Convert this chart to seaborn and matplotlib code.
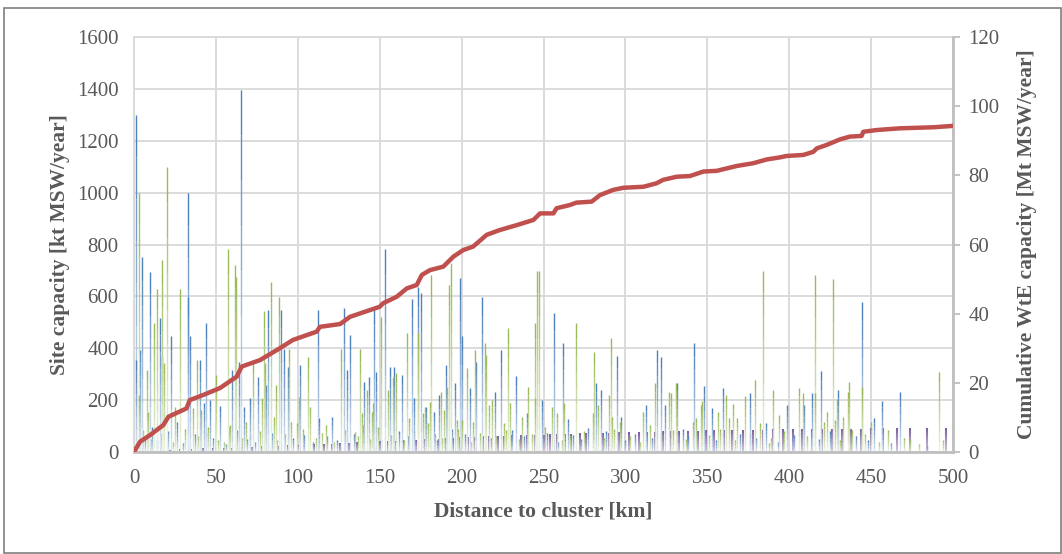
import numpy as np
import pandas as pd
import seaborn as sns
import matplotlib.pyplot as plt
from matplotlib.colors import to_rgb
from matplotlib.patches import Rectangle

# Site capacities [kt MSW/year] against distance to cluster [km]
blue_km = [1.0, 1.2, 3.6, 4.9, 9.9, 11.0, 15.9, 17.0, 22.8, 26.0,
           32.8, 33.2, 34.2, 40.0, 42.8, 43.8, 46.4, 52.5, 59.6, 64.3,
           65.5, 67.3, 70.9, 75.4, 80.6, 81.6, 89.7, 91.8, 93.8, 101.5,
           104.0, 112.5, 113.0, 120.7, 128.4, 130.0, 131.7, 140.6, 143.7, 146.8,
           147.8, 153.3, 156.5, 158.9, 163.6, 169.7, 171.0, 173.4, 175.2, 178.0,
           183.0, 186.0, 190.4, 196.0, 199.2, 200.2, 205.0, 208.9, 212.4, 220.2,
           224.2, 233.2, 240.0, 249.0, 256.2, 262.0, 265.0, 277.0, 282.0, 285.0,
           294.7, 297.0, 312.8, 319.5, 321.5, 324.0, 331.7, 341.9, 348.0, 352.7,
           359.8, 375.8, 386.0, 398.9, 409.0, 413.7, 419.6, 429.8, 444.6, 451.8,
           456.4, 467.6, 500.0]
blue_kt = [355, 1300, 393, 753, 695, 98, 515, 370, 447, 117,
           997, 599, 447, 355, 188, 496, 200, 177, 316, 348,
           1395, 175, 207, 290, 258, 547, 547, 396, 326, 335,
           65, 547, 130, 136, 556, 316, 451, 271, 290, 560,
           310, 781, 329, 329, 297, 589, 207, 637, 614, 175,
           155, 220, 335, 267, 669, 447, 245, 348, 599, 232,
           393, 293, 149, 200, 535, 419, 126, 91, 265, 239,
           370, 136, 181, 393, 365, 181, 267, 419, 254, 168,
           245, 226, 110, 181, 181, 226, 312, 239, 577, 130,
           198, 230, 91]
# small sites near the base
blue_small_km = [6.5, 14, 20.5, 30, 37, 48, 56, 63, 69, 74,
                 84, 97, 109, 118, 124, 134, 151, 162, 167, 185,
                 194, 202, 218, 231, 238, 252, 259, 268, 273, 288,
                 300, 306, 316, 335, 338, 355, 370, 380, 393, 403,
                 418, 425, 441, 448, 462, 484]
blue_small_kt = [60, 45, 80, 35, 70, 55, 30, 85, 50, 40,
                 75, 55, 40, 60, 45, 70, 50, 80, 60, 45,
                 90, 70, 55, 85, 60, 75, 40, 65, 50, 80,
                 45, 70, 55, 90, 60, 45, 70, 55, 40, 65,
                 50, 80, 60, 45, 35, 25]

green_km = [2.9, 3.0, 7.7, 8.5, 12.4, 13.8, 17.3, 18.5, 19.9, 25.0,
            28.1, 36.0, 38.3, 41.0, 45.0, 50.0, 55.0, 57.4, 58.5, 61.6,
            62.0, 68.5, 72.7, 78.0, 79.5, 79.8, 83.4, 85.5, 86.5, 88.7,
            94.8, 95.8, 99.2, 100.9, 106.4, 107.6, 117.0, 126.4, 135.0, 138.0,
            139.0, 139.8, 142.0, 145.2, 146.0, 150.7, 155.0, 158.0, 160.0, 166.5,
            168.0, 173.4, 176.5, 177.5, 179.5, 180.5, 181.3, 187.5, 189.0, 191.0,
            192.5, 193.5, 197.0, 200.5, 203.3, 207.0, 208.4, 214.0, 215.0, 216.5,
            218.5, 226.0, 228.1, 229.5, 237.0, 240.8, 244.8, 245.0, 246.0, 247.3,
            255.2, 258.2, 262.4, 270.0, 280.0, 280.9, 283.0, 290.2, 291.0, 291.8,
            296.5, 310.8, 314.8, 318.3, 326.6, 327.6, 330.8, 341.0, 343.0, 346.0,
            347.0, 356.8, 361.5, 363.0, 365.7, 368.0, 372.8, 378.9, 382.0, 383.8,
            387.5, 390.0, 394.0, 405.8, 408.5, 415.6, 416.0, 421.0, 423.0, 426.5,
            428.0, 429.0, 433.0, 435.7, 436.7, 438.5, 444.6, 450.0, 460.0, 474.0,
            491.4]
green_kt = [1000, 220, 316, 155, 496, 627, 740, 344, 1097, 175,
            627, 168, 355, 162, 98, 297, 40, 781, 104, 721,
            676, 117, 342, 207, 545, 342, 657, 136, 258, 599,
            396, 117, 110, 213, 367, 175, 104, 396, 78, 396,
            149, 104, 239, 155, 188, 519, 239, 290, 303, 457,
            130, 457, 149, 175, 110, 194, 682, 232, 162, 252,
            644, 727, 123, 123, 322, 117, 393, 421, 374, 181,
            200, 110, 477, 188, 136, 252, 207, 496, 699, 699,
            175, 149, 188, 496, 149, 387, 181, 220, 438, 136,
            117, 155, 104, 265, 232, 229, 265, 117, 130, 181,
            198, 155, 220, 130, 185, 130, 216, 278, 110, 699,
            33, 239, 143, 245, 226, 682, 226, 117, 155, 667,
            123, 203, 136, 232, 271, 85, 252, 117, 85, 49,
            310]
green_small_km = [5.5, 10.5, 16.5, 23.5, 31, 39, 44, 51, 58, 66,
                  71, 77, 87, 92, 103, 111, 115, 122, 129, 137,
                  144, 149, 157, 165, 171, 184, 188, 198, 206, 211,
                  221, 227, 235, 243, 251, 261, 266, 275, 287, 293,
                  303, 309, 322, 329, 337, 351, 358, 367, 376, 389,
                  397, 411, 431, 446, 455, 470, 479, 494]
green_small_kt = [85, 50, 70, 40, 90, 60, 75, 45, 95, 55,
                  65, 80, 45, 70, 90, 55, 75, 40, 85, 60,
                  50, 95, 65, 45, 80, 70, 55, 90, 40, 75,
                  60, 85, 50, 70, 95, 45, 65, 80, 55, 90,
                  60, 40, 75, 85, 50, 65, 90, 45, 70, 55,
                  80, 60, 45, 70, 40, 55, 30, 45]

purple_km = [22, 28, 35, 42, 48, 55, 60, 66, 72, 78,
             84, 88, 94, 100, 104, 110, 116, 121, 126, 131,
             136, 140, 146, 150, 155, 160, 164, 168, 172, 177,
             181, 186, 190, 195, 199, 204, 208, 213, 217, 222,
             226, 231, 236, 240, 245, 250, 254, 258, 263, 267,
             272, 276, 281, 286, 290, 296, 302, 308, 313, 318,
             323, 328, 333, 338, 344, 349, 354, 360, 365, 372,
             378, 384, 390, 396, 402, 408, 414, 420, 426, 432,
             438, 444, 450, 457, 466, 474, 484, 496]
purple_kt = [8, 10, 12, 14, 15, 16, 17, 18, 20, 22,
             24, 25, 27, 28, 28, 30, 31, 32, 34, 36,
             37, 38, 40, 41, 42, 44, 46, 47, 48, 50,
             51, 52, 54, 55, 56, 58, 59, 60, 61, 62,
             63, 64, 64, 65, 66, 67, 68, 69, 70, 71,
             72, 72, 73, 74, 75, 76, 76, 77, 78, 79,
             80, 80, 81, 82, 82, 83, 84, 84, 85, 85,
             86, 86, 87, 87, 88, 88, 89, 89, 89, 90,
             90, 90, 91, 91, 91, 92, 92, 92]

# Cumulative WtE capacity [Mt MSW/year]
cum_km = [0, 3.7, 9.8, 17.9, 21, 32, 34, 42.3, 52.5, 62.7,
          65.7, 77, 89, 97, 105.4, 111.5, 113.5, 125.8, 131.9, 150,
          152, 160.4, 166.5, 172.6, 175.7, 180.7, 188.8, 195, 201, 207,
          215.3, 223.4, 233.6, 243.8, 247.9, 256, 258, 266, 270, 279.4,
          284.5, 292.6, 298.7, 311, 319, 323, 331.3, 339.4, 347.6, 355.7,
          367.9, 378, 386.3, 394.4, 398.4, 408.6, 414.7, 416.8, 422.9, 431,
          437, 444.2, 445.2, 453.4, 467.6, 488, 500]
cum_mt = [0, 3.0, 4.9, 7.8, 10.2, 12.6, 15, 16.5, 18.5, 21.8,
          24.7, 26.6, 30, 32.4, 33.8, 34.8, 36.2, 37, 39.1, 42,
          43, 44.9, 47.3, 48.3, 51.2, 52.6, 53.6, 56.5, 58.4, 59.4,
          62.8, 64.2, 65.6, 67.1, 69, 69, 70.5, 71.4, 72.1, 72.4,
          74.3, 75.8, 76.4, 76.7, 77.7, 78.7, 79.6, 79.8, 81.1, 81.3,
          82.7, 83.5, 84.6, 85.2, 85.6, 85.9, 86.8, 87.8, 88.8, 90.4,
          91.2, 91.4, 92.6, 93.1, 93.6, 93.9, 94.3]

sns.set_theme(style="whitegrid")
plt.rcParams['font.family'] = ['Liberation Serif', 'DejaVu Serif']
text_col = '#595959'


def gradient_bars(ax, xs, hs, color, nseg=8, lw=1.0, f0=0.1):
    """Thin bars fading from colour at the top to white at the base"""
    base = np.array(to_rgb(color))
    white = np.ones(3)
    for j in range(nseg):
        f = f0 + (1 - f0) * (j + 1) / nseg
        c = white * (1 - f) + base * f
        lo = [h * j / nseg for h in hs]
        hi = [h * (j + 1) / nseg for h in hs]
        ax.vlines(xs, lo, hi, colors=[c], linewidth=lw, zorder=2)


fig = plt.figure(figsize=(10.62, 5.54), dpi=100)
ax = fig.add_axes([0.1262, 0.1841, 0.7712, 0.7491])

gradient_bars(ax, purple_km, purple_kt, '#8064A2', lw=1.5, f0=0.3)
gradient_bars(ax, blue_small_km, blue_small_kt, '#4F81BD', lw=1.0)
gradient_bars(ax, green_small_km, green_small_kt, '#9BBB59', lw=1.0)
gradient_bars(ax, blue_km, blue_kt, '#4F81BD')
gradient_bars(ax, green_km, green_kt, '#9BBB59')

ax.set_xlim(0, 500)
ax.set_ylim(0, 1600)
ax.set_xticks(range(0, 501, 50))
ax.set_yticks(range(0, 1601, 200))
ax.grid(True, color='#D9D9D9', linewidth=1.3)
ax.set_axisbelow(True)
ax.tick_params(axis='both', length=0, labelsize=15, colors=text_col)
ax.tick_params(axis='x', pad=12)
ax.tick_params(axis='y', pad=11)
for s in ['top', 'left']:
    ax.spines[s].set_color('#D9D9D9')
    ax.spines[s].set_linewidth(1.3)
ax.spines['right'].set_visible(False)
ax.spines['bottom'].set_color('#BFBFBF')
ax.spines['bottom'].set_linewidth(2)
ax.set_xlabel('Distance to cluster [km]', fontsize=15.5, fontweight='bold',
              color=text_col, labelpad=10)
ax.set_ylabel('Site capacity [kt MSW/year]', fontsize=15.5, fontweight='bold',
              color=text_col, labelpad=5)

ax2 = ax.twinx()
cum = pd.DataFrame({'km': cum_km, 'mt': cum_mt})
sns.lineplot(data=cum, x='km', y='mt', ax=ax2, color='#C0504D', linewidth=3.2,
             estimator=None, sort=False, zorder=5)
ax2.set_ylim(0, 120)
ax2.set_yticks(range(0, 121, 20))
ax2.grid(False)
ax2.tick_params(axis='y', length=5, width=1.3, color='#BFBFBF',
                labelsize=15, labelcolor=text_col, pad=6)
for s in ['top', 'left', 'bottom']:
    ax2.spines[s].set_visible(False)
ax2.spines['right'].set_color('#BFBFBF')
ax2.spines['right'].set_linewidth(2)
ax2.set_xlabel('')
ax2.set_ylabel('Cumulative WtE capacity [Mt MSW/year]', fontsize=15.5,
               fontweight='bold', color=text_col, labelpad=13)

# outer frame of the chart area
fig.patches.append(Rectangle((0.004, 0.002), 0.995, 0.984, transform=fig.transFigure,
                             fill=False, edgecolor='#7F7F7F', linewidth=1.2))

fig.savefig('out.png', dpi=100)
